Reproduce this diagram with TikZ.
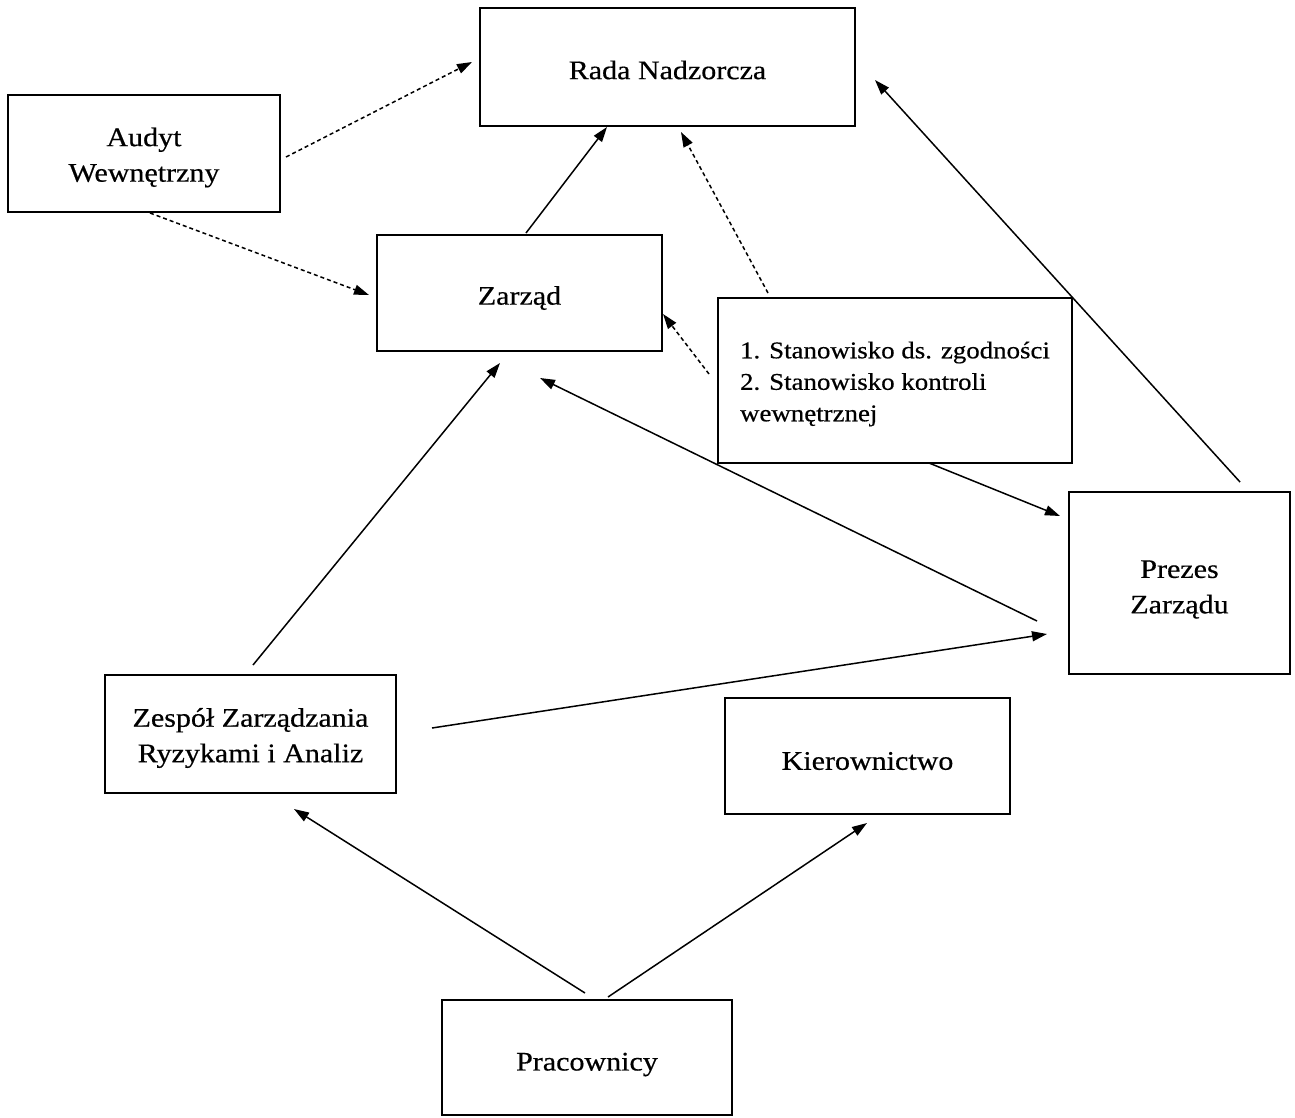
\documentclass[tikz,border=0pt]{standalone}
\usepackage{fontspec}
\setmainfont{Liberation Serif}[FakeStretch=1.12,FakeBold=0.5]
\usetikzlibrary{arrows.meta}
\begin{document}
\begin{tikzpicture}[x=1pt,y=-1pt,
  box/.style={draw=black,line width=2.7pt,rectangle,inner sep=0pt},
  lbl/.style={inner sep=0pt,align=center,font=\fontsize{26.8}{35.5}\selectfont},
  conn/.style={line width=1.5pt,-{Triangle[length=15pt,width=10pt]}},
  dconn/.style={conn,dash pattern=on 4pt off 3pt}]
\useasboundingbox[fill=white] (0,0) rectangle (1295,1117);

% boxes
\node[box,minimum width=375pt,minimum height=118pt] (rada) at (667.5,67) {};
\node[box,minimum width=272pt,minimum height=117pt] (audyt) at (144,153.5) {};
\node[box,minimum width=285pt,minimum height=116pt] (zarzad) at (519.5,293) {};
\node[box,minimum width=354pt,minimum height=165pt] (stan) at (895,380.5) {};
\node[box,minimum width=221pt,minimum height=182pt] (prezes) at (1179.5,583) {};
\node[box,minimum width=291pt,minimum height=118pt] (zespol) at (250.5,734) {};
\node[box,minimum width=285pt,minimum height=116pt] (kier) at (867.5,756) {};
\node[box,minimum width=290pt,minimum height=115pt] (prac) at (587,1057.5) {};

% texts (yshift is in page direction: negative = down)
\node[lbl] (radaT) at ([yshift=-3pt]rada.center) {Rada Nadzorcza};
\node[lbl] (audytT) at ([yshift=-4pt]audyt.center) {Audyt\\Wewnętrzny};
\node[lbl] (zarzadT0) at ([yshift=-5pt]zarzad.center) {Zarząd};
\node[lbl,align=left,font=\fontsize{24}{31.5}\selectfont] (stanT0) at ([yshift=-3.5pt]stan.center)
  {1. Stanowisko ds. zgodności\\2. Stanowisko kontroli\\wewnętrznej};
\node[lbl] (prezesT0) at ([yshift=-6.5pt]prezes.center) {Prezes\\Zarządu};
\node[lbl] (zespolT0) at ([yshift=-4pt]zespol.center) {Zespół Zarządzania\\Ryzykami i Analiz};
\node[lbl] (kierT) at ([yshift=-5pt]kier.center) {Kierownictwo};
\node[lbl] (pracT) at ([yshift=-7pt]prac.center) {Pracownicy};

% connector end points (arrows stop short of the boxes)
\coordinate (audytR) at (286,157);   \coordinate (radaL) at (472,62);
\coordinate (audytB) at (150,213);   \coordinate (zarzadL) at (369,295);
\coordinate (zarzadT) at (526,233);  \coordinate (radaB) at (607,127);
\coordinate (stanT) at (768,293);    \coordinate (radaB2) at (681,132);
\coordinate (stanL) at (709,374);    \coordinate (zarzadR) at (663,314);
\coordinate (stanB) at (929,463);    \coordinate (prezesL) at (1060,516);
\coordinate (prezesT) at (1240,482); \coordinate (radaR) at (875,80);
\coordinate (prezesL2) at (1037,621);\coordinate (zarzadB2) at (540,378);
\coordinate (zespolR) at (432,728);  \coordinate (prezesL3) at (1047,634);
\coordinate (zespolT) at (253,665);  \coordinate (zarzadB) at (500,363);
\coordinate (pracT1) at (585,993);   \coordinate (zespolB) at (294,809);
\coordinate (pracT2) at (608,997);   \coordinate (kierB) at (867,823);

\draw[dconn] (audytR) -- (radaL);
\draw[dconn] (audytB) -- (zarzadL);
\draw[conn] (zarzadT) -- (radaB);
\draw[dconn] (stanT) -- (radaB2);
\draw[dconn] (stanL) -- (zarzadR);
\draw[conn] (stanB) -- (prezesL);
\draw[conn] (prezesT) -- (radaR);
\draw[conn] (prezesL2) -- (zarzadB2);
\draw[conn] (zespolR) -- (prezesL3);
\draw[conn] (zespolT) -- (zarzadB);
\draw[conn] (pracT1) -- (zespolB);
\draw[conn] (pracT2) -- (kierB);
\end{tikzpicture}
\end{document}
